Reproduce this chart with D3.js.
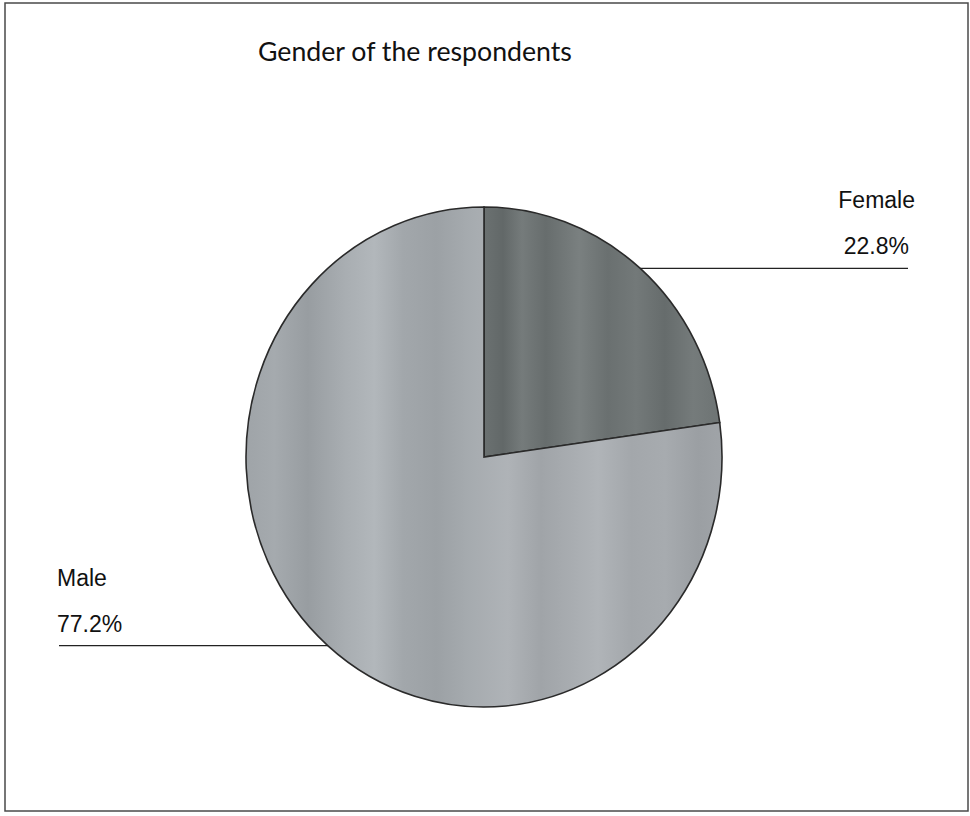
<!DOCTYPE html>
<html>
<head>
<meta charset="utf-8">
<script src="https://cdn.jsdelivr.net/npm/d3@7"></script>
<style>
  html, body { margin: 0; padding: 0; background: #fff; }
  svg { display: block; }
</style>
</head>
<body>
<svg id="chart" width="970" height="816"></svg>
<script>
// ---- data ----
const title = "Gender of the respondents";
const categories = ["Female", "Male"];
const values = [22.8, 77.2];
const valueLabels = ["22.8%", "77.2%"];

// ---- layout ----
const W = 970, H = 816;
const cx = 484, cy = 457, ry = 250, rx = 238;

const svg = d3.select("#chart");

// frame
svg.append("rect")
  .attr("x", 5).attr("y", 3).attr("width", 963).attr("height", 808)
  .attr("fill", "#fff").attr("stroke", "#4a4a4a").attr("stroke-width", 1.5);

// title
const t = svg.append("text")
  .attr("x", 258).attr("y", 61)
  .attr("font-family", "Lato, 'Open Sans', sans-serif")
  .attr("font-size", 100)
  .attr("fill", "#111")
  .text(title);
const tw = t.node().getComputedTextLength();
t.attr("font-size", 100 * 314 / tw);

// gradients imitating the vertical streak texture (in pie-local coords)
const defs = svg.append("defs");
function bandGradient(id, stops) {
  const g = defs.append("linearGradient").attr("id", id)
    .attr("gradientUnits", "userSpaceOnUse")
    .attr("x1", -ry).attr("y1", 0).attr("x2", ry).attr("y2", 0);
  stops.forEach(([o, c]) => g.append("stop").attr("offset", o).attr("stop-color", c));
}
bandGradient("maleGrad", [
  [0.00, "#9fa4a8"], [0.06, "#a5aaae"], [0.13, "#989da1"], [0.21, "#a9aeb2"],
  [0.27, "#b2b7bb"], [0.33, "#a2a7ab"], [0.40, "#9ca1a5"], [0.47, "#a6abaf"],
  [0.55, "#afb3b7"], [0.62, "#a0a4a8"], [0.68, "#a8acb0"], [0.74, "#b0b4b8"],
  [0.81, "#a3a7ab"], [0.88, "#a7abaf"], [0.95, "#9b9fa3"], [1.00, "#a0a4a8"]
]);
bandGradient("femaleGrad", [
  [0.50, "#6b7171"], [0.54, "#626868"], [0.58, "#757b7b"], [0.63, "#676d6d"],
  [0.70, "#7a8080"], [0.76, "#6a7070"], [0.82, "#737979"], [0.88, "#666c6c"],
  [0.94, "#757b7b"], [1.00, "#6d7373"]
]);

// pie
const pie = d3.pie().sort(null).value(d => d)(values);
const arc = d3.arc().innerRadius(0).outerRadius(ry);

const g = svg.append("g").attr("transform", `translate(${cx},${cy}) scale(${rx / ry},1)`);
g.selectAll("path.slice")
  .data(pie)
  .join("path")
  .attr("class", "slice")
  .attr("d", arc)
  .attr("fill", (d, i) => `url(#${i === 0 ? "femaleGrad" : "maleGrad"})`)
  .attr("stroke", "#2a2a2a")
  .attr("stroke-width", 1.6)
  .attr("vector-effect", "non-scaling-stroke");

// leader lines and labels
const labelFont = "'Liberation Sans', Arial, sans-serif";
const labelEnds = [908, 59];
const labelX = [915, 57];
pie.forEach((d, i) => {
  const mid = (d.startAngle + d.endAngle) / 2;
  const px = cx + rx * Math.sin(mid);
  const py = cy - ry * Math.cos(mid);
  svg.append("line")
    .attr("x1", px).attr("y1", py)
    .attr("x2", labelEnds[i]).attr("y2", py)
    .attr("stroke", "#222").attr("stroke-width", 1.3);
  const anchor = i === 0 ? "end" : "start";
  svg.append("text")
    .attr("x", labelX[i]).attr("y", py - 60)
    .attr("text-anchor", anchor)
    .attr("font-family", labelFont).attr("font-size", 23).attr("fill", "#111")
    .text(categories[i]);
  svg.append("text")
    .attr("x", labelX[i] - (i === 0 ? 6 : 0)).attr("y", py - 14)
    .attr("text-anchor", anchor)
    .attr("font-family", labelFont).attr("font-size", 23).attr("fill", "#111")
    .text(valueLabels[i]);
});
</script>
</body>
</html>
